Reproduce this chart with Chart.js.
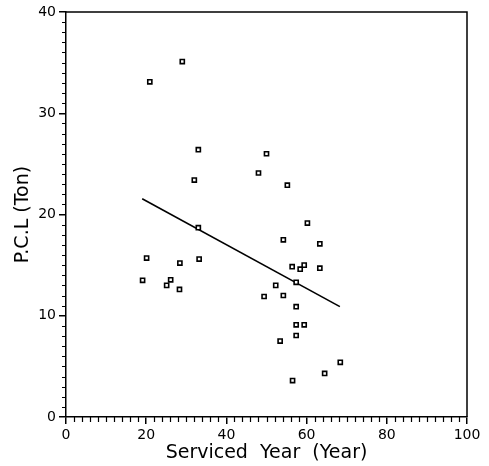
<!DOCTYPE html>
<html>
<head>
<meta charset="utf-8">
<script src="https://cdn.jsdelivr.net/npm/chart.js@4/dist/chart.umd.min.js"></script>
<style>
html,body{margin:0;padding:0;background:#fff;}
#wrap{width:489px;height:466px;}
</style>
</head>
<body>
<div id="wrap"><canvas id="c" width="489" height="466"></canvas></div>
<script>
// Data
const servicedYear = [20.9, 29.0, 33.0, 32.0, 33.0, 20.1, 28.4, 33.2, 19.1, 26.1, 25.1, 28.3,
  50.0, 48.0, 55.2, 60.2, 54.2, 63.3, 56.4, 58.4, 59.4, 63.3, 57.4, 52.3, 49.4, 54.2,
  57.4, 57.4, 59.4, 57.4, 53.4, 68.4, 64.5, 56.5];
const pclTon = [33.1, 35.1, 26.4, 23.4, 18.7, 15.7, 15.2, 15.6, 13.5, 13.55, 13.0, 12.6,
  26.0, 24.1, 22.9, 19.15, 17.5, 17.1, 14.85, 14.6, 15.0, 14.7, 13.3, 13.0, 11.9, 12.0,
  10.9, 9.1, 9.1, 8.05, 7.5, 5.4, 4.3, 3.6];
const fitLineX = [19.0, 68.3];
const fitLineY = [21.55, 10.9];
const xTicks = [0, 20, 40, 60, 80, 100];
const yTicks = [0, 10, 20, 30, 40];
const xTitle = 'Serviced  Year  (Year)';
const yTitle = 'P.C.L (Ton)';

const FONT = '"DejaVu Sans", sans-serif';

const minorTicks = {
  id: 'minorTicks',
  afterDraw(chart) {
    const ctx = chart.ctx;
    const xs = chart.scales.x, ys = chart.scales.y;
    const a = chart.chartArea;
    ctx.save();
    ctx.strokeStyle = '#000';
    ctx.lineWidth = 1.2;
    ctx.beginPath();
    for (let v = 0; v <= 100; v += 2) {
      if (v % 20 === 0) continue;
      const px = Math.round(xs.getPixelForValue(v)) + 0.5;
      ctx.moveTo(px, a.bottom);
      ctx.lineTo(px, a.bottom + 5);
    }
    for (let v = 0; v <= 40; v += 1) {
      if (v % 10 === 0) continue;
      const py = Math.round(ys.getPixelForValue(v)) + 0.5;
      ctx.moveTo(a.left, py);
      ctx.lineTo(a.left - 4, py);
    }
    ctx.stroke();
    // box: top and right border
    ctx.lineWidth = 1.5;
    ctx.beginPath();
    ctx.moveTo(a.left, a.top);
    ctx.lineTo(a.right, a.top);
    ctx.lineTo(a.right, a.bottom);
    ctx.stroke();
    ctx.restore();
  }
};

new Chart(document.getElementById('c'), {
  type: 'scatter',
  data: {
    datasets: [
      {
        type: 'scatter',
        data: servicedYear.map((x, i) => ({x: x, y: pclTon[i]})),
        pointStyle: 'rect',
        pointRadius: 2.9,
        pointBorderWidth: 1.6,
        borderColor: '#000',
        backgroundColor: '#fff'
      },
      {
        type: 'line',
        data: fitLineX.map((x, i) => ({x: x, y: fitLineY[i]})),
        borderColor: '#000',
        borderWidth: 1.6,
        pointRadius: 0,
        fill: false
      }
    ]
  },
  options: {
    responsive: false,
    animation: false,
    events: [],
    layout: {padding: {top: 12, right: 22, left: 0, bottom: 0}},
    plugins: {legend: {display: false}, tooltip: {enabled: false}},
    scales: {
      x: {
        type: 'linear',
        min: 0, max: 100,
        afterBuildTicks(s) { s.ticks = xTicks.map(v => ({value: v})); },
        afterFit(s) { s.height = 49; },
        grid: {display: true, drawOnChartArea: false, tickLength: 7, color: '#000', lineWidth: 1.5},
        border: {display: true, color: '#000', width: 1.5},
        ticks: {color: '#000', font: {family: FONT, size: 14}, padding: 3, maxRotation: 0},
        title: {display: true, text: xTitle, color: '#000', font: {family: FONT, size: 19}, padding: {top: 0, bottom: 2}}
      },
      y: {
        type: 'linear',
        min: 0, max: 40,
        afterBuildTicks(s) { s.ticks = yTicks.map(v => ({value: v})); },
        afterFit(s) { s.width = 66; },
        grid: {display: true, drawOnChartArea: false, tickLength: 7, color: '#000', lineWidth: 1.5},
        border: {display: true, color: '#000', width: 1.5},
        ticks: {color: '#000', font: {family: FONT, size: 14}, padding: 3},
        title: {display: true, text: yTitle, color: '#000', font: {family: FONT, size: 19}, padding: {top: 12, bottom: 0}}
      }
    }
  },
  plugins: [minorTicks]
});
</script>
</body>
</html>
